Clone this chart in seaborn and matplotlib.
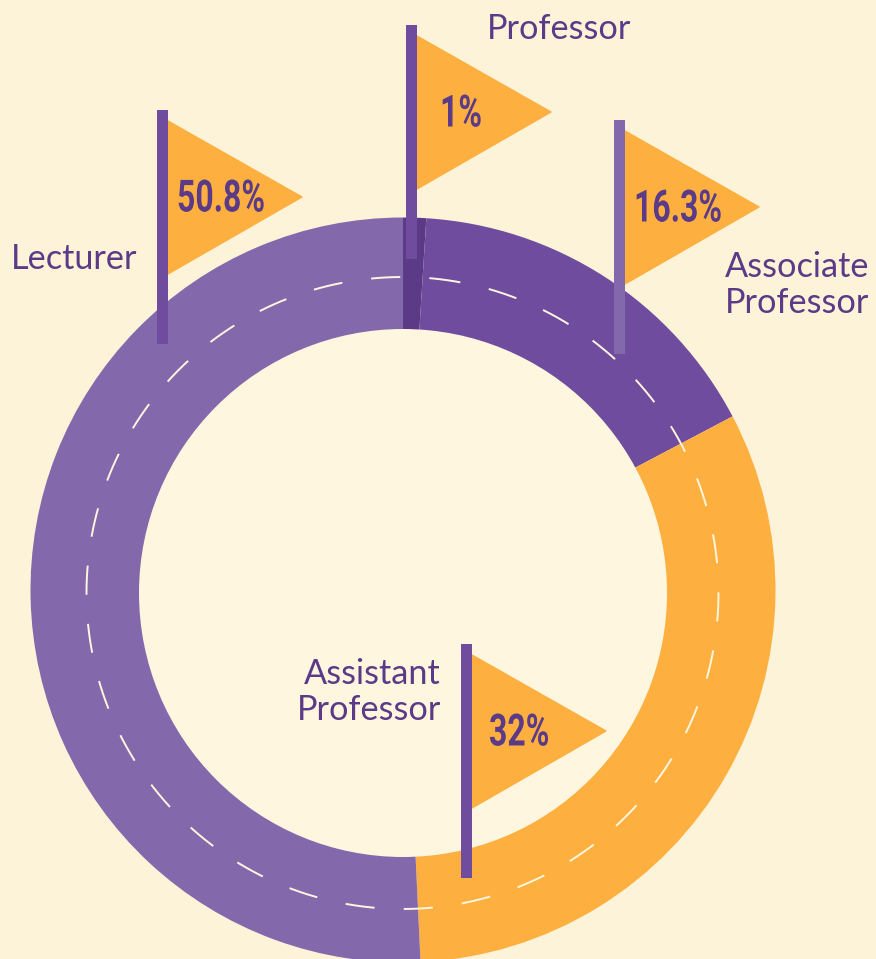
import numpy as np
import seaborn as sns
import matplotlib.pyplot as plt
from matplotlib.patches import Circle
from matplotlib.patheffects import AbstractPathEffect
from matplotlib.transforms import Affine2D

# data
categories = ['Professor', 'Associate\nProfessor', 'Assistant\nProfessor', 'Lecturer']
shares = [1, 16.3, 32, 50.8]
share_labels = ['1%', '16.3%', '32%', '50.8%']

# colours
BG = '#FDF3D8'
HOLE = '#FFF6E0'
DARK = '#5B3A87'
PURPLE = '#6F4C9E'
LIGHT = '#8468AC'
ORANGE = '#FDB040'
slice_colors = [DARK, PURPLE, ORANGE, LIGHT]
pole_colors = [PURPLE, LIGHT, PURPLE, PURPLE]


# no condensed font here, so squeeze the glyphs sideways
class Squeeze(AbstractPathEffect):
    def __init__(self, factor):
        super().__init__()
        self.factor = factor

    def draw_path(self, renderer, gc, tpath, affine, rgbFace=None):
        renderer.draw_path(gc, tpath, Affine2D().scale(self.factor, 1) + affine, rgbFace)


sns.set_theme(style='white', rc={'lines.scale_dashes': False})
plt.rcParams['font.family'] = ['Lato', 'DejaVu Sans']

fig = plt.figure(figsize=(8.76, 9.59), dpi=100, facecolor=BG)
ax = fig.add_axes([0, 0, 1, 1])

# ring
ax.pie(shares, colors=slice_colors, center=(403, 590), radius=372.5,
       startangle=-90, counterclock=True, wedgeprops={'linewidth': 0})
ax.add_patch(Circle((403, 593), 264, facecolor=HOLE, edgecolor='none', zorder=3))

# dashed centre line, starts just right of the top
theta = np.linspace(0, 2 * np.pi, 720) + 29 / 316 - np.pi / 2
ax.plot(402.5 + 316 * np.cos(theta), 593 + 316 * np.sin(theta), color=HOLE, lw=1.4,
        dashes=(21, 21), zorder=4)

# flags, in the same order as the categories
pole_left = [406, 614, 461, 157]
pole_top = [25, 120, 644, 110]
label_x = [487, 725, 441, 11]
label_y = [29, 285, 692, 259]
label_ha = ['left', 'left', 'right', 'left']
share_x = [440, 634, 489, 177]

for i, cat in enumerate(categories):
    x, y = pole_left[i], pole_top[i]
    ax.fill([x + 11, x + 145, x + 11], [y + 11, y + 87, y + 164], color=ORANGE,
            lw=1, joinstyle='round', zorder=5)
    ax.fill([x, x + 11, x + 11, x], [y, y, y + 234, y + 234], color=pole_colors[i],
            lw=0, zorder=6)
    ax.text(share_x[i], y + 89.5, share_labels[i], ha='left', va='center', color=DARK,
            fontsize=32, fontweight='bold', family=['Roboto', 'DejaVu Sans'],
            path_effects=[Squeeze(0.72)], zorder=7)
    ax.text(label_x[i], label_y[i], cat, ha=label_ha[i], va='center', color=DARK,
            fontsize=24.7, linespacing=1.17, multialignment=label_ha[i], zorder=7)

ax.set_xlim(0, 876)
ax.set_ylim(959, 0)
ax.set_aspect('equal')
ax.axis('off')

plt.savefig('out.png', dpi=100, facecolor=BG)
